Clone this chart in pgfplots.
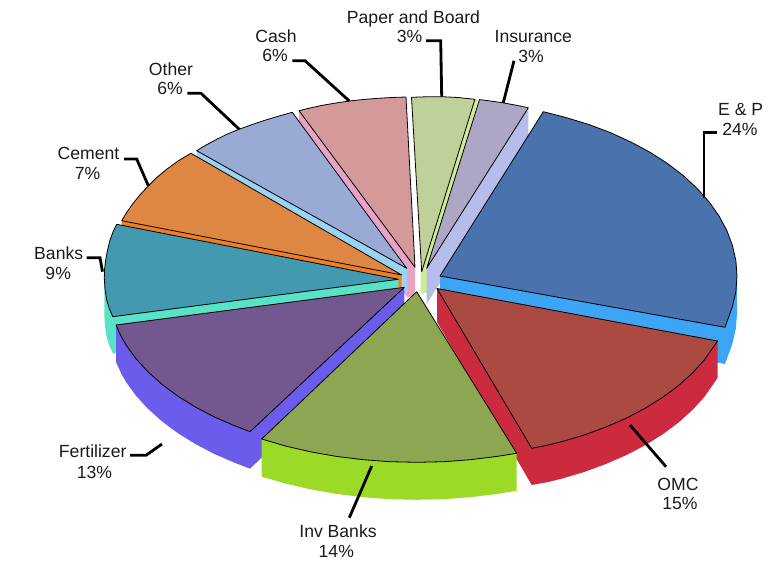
\documentclass[border=0pt]{standalone}
\usepackage{pgfplots}
\pgfplotsset{compat=1.18}
\usepackage{fontspec}
\setmainfont{Liberation Sans}

% top face / side face colours of each sector
\definecolor{epT}{HTML}{4A72AD}\definecolor{epS}{HTML}{3CA5F5}
\definecolor{omT}{HTML}{AB4A42}\definecolor{omS}{HTML}{CC2B3F}
\definecolor{ibT}{HTML}{8CA652}\definecolor{ibS}{HTML}{9BDB27}
\definecolor{feT}{HTML}{72588F}\definecolor{feS}{HTML}{6C5CEB}
\definecolor{baT}{HTML}{4299B0}\definecolor{baS}{HTML}{58E2C6}
\definecolor{ceT}{HTML}{DE8743}\definecolor{ceS}{HTML}{F57C21}
\definecolor{otT}{HTML}{99AAD5}\definecolor{otS}{HTML}{9AD4F3}
\definecolor{caT}{HTML}{D49A9A}\definecolor{caS}{HTML}{E8A2C6}
\definecolor{paT}{HTML}{C0D09A}\definecolor{paS}{HTML}{CDEC94}
\definecolor{inT}{HTML}{AEA6C5}\definecolor{inS}{HTML}{B6BDEB}
\definecolor{labelgrey}{HTML}{1A1A1A}

\pgfplotsset{
  top/.style={fill=#1, draw=black, line width=0.8pt, sharp plot, no markers, line join=round, line cap=round},
  side/.style={fill=#1, draw=none, sharp plot, no markers},
  leader/.style={draw=black, line width=2.8pt, no markers, sharp plot, line join=miter},
}
% one line of a label, placed by its baseline
\newcommand{\lab}[3]{\node[anchor=base, inner sep=0pt, yshift=-0.8pt, text=labelgrey, font=\fontsize{17.6}{20}\selectfont] at (axis cs:#1,#2) {#3};}

\begin{document}
\begin{tikzpicture}
\begin{axis}[
  width=768pt, height=561pt, scale only axis,
  xmin=0, xmax=768, ymin=0, ymax=561, y dir=reverse,
  hide axis, clip=false,
]
\path (axis cs:0,0) rectangle (axis cs:768,561);
% Cash
\addplot[side=caS] coordinates {(415,267.3)(415,297)(407,297)(299,140)(299,110.7)};
\addplot[top=caT] coordinates {(415,267.3)(299,110.7)(311,107.8)(323,105.2)(336,103)(349.3,101)(363.5,99.5)(378,98.3)(392,97.5)(406,97)(415,267.3)};
% Paper and Board
\addplot[side=paS] coordinates {(420.5,270)(420.5,293)(427.5,293)(478,100)(474.7,99.3)};
\addplot[top=paT] coordinates {(421.7,271.7)(411.5,97.3)(426,96.8)(441.7,96.7)(458,97.5)(474.9,99.3)(421.7,271.7)};
% Insurance
\addplot[side=inS] coordinates {(426.7,268.3)(426.7,304)(528.3,144)(528.3,108)};
\addplot[top=inT] coordinates {(426.7,268.3)(479.5,99.6)(492,101.2)(504,103)(516,105.2)(528.3,107.8)(426.7,268.3)};
% Other
\addplot[side=otS] coordinates {(406.7,268.3)(407.7,292)(402,292)(196.7,180)(196.7,150.7)};
\addplot[top=otT] coordinates {(406.7,268.3)(196.7,150.7)(207,144.5)(217.7,138.8)(228,133.8)(239,129.3)(251.5,124.8)(264.2,120.5)(278,116.3)(292.3,112.3)(406.7,268.3)};
% Cement
\addplot[side=ceS] coordinates {(401.7,275)(401.7,287)(398,287)(121.7,250)(121.7,220.7)};
\addplot[top=ceT] coordinates {(401.7,275)(121.7,220.7)(127,212)(133.1,203.4)(140.3,194.5)(148.3,186)(157,177.3)(166.9,169.1)(178,161)(191,153.3)(401.7,275)};
% Banks
\addplot[side=baS] coordinates {(104.3,278)(104.3,315)(105,326)(106.7,337)(109.3,345.5)(113,353.5)(398.3,312)(398.3,279.3)};
\addplot[top=baT] coordinates {(398.3,279.3)(116.7,224.3)(113,232)(110,240)(107.5,250)(105.7,260)(104.6,269)(104.3,278)(105,289)(106.7,300)(109.3,308.5)(112.7,316.7)(398.3,279.3)};
% E & P
\addplot[side=epS] coordinates {(440,276)(440,310)(725,364)(728.2,355.3)(732.5,343.4)(735.9,328.3)(737,313)(737,276)};
\addplot[top=epT] coordinates {(440,276)(543.3,111.7)(565.5,117.4)(588.5,124.4)(610.4,132.6)(630.9,142)(650,152.3)(667.5,163.5)(683.3,175.6)(697.2,188.5)(709.2,202)(719.1,216.1)(726.9,230.7)(732.5,245.6)(735.9,260.7)(737,276)(735.9,291.3)(732.5,306.4)(728.2,318.3)(725,327.3)(440,276)};
% OMC
\addplot[side=omS] coordinates {(437,288.5)(437,322)(531.7,485)(547.5,482.2)(561.7,478.7)(584.5,471.9)(606.2,463.9)(626.6,455)(645.6,445)(663,434.1)(678.7,422.4)(692.5,410)(704.4,396.9)(717.5,378)(717.5,341)};
\addplot[top=omT] coordinates {(437,288.5)(717.5,341)(704.4,359.9)(692.5,373)(678.7,385.4)(663,397.1)(645.6,408)(626.6,418)(606.2,426.9)(584.5,434.9)(561.7,441.7)(547.5,445.2)(531.7,448.3)(437,288.5)};
% Fertilizer
\addplot[side=feS] coordinates {(404.3,287.3)(404.3,322)(250,468.7)(234.5,462.7)(214,453.8)(195,443.8)(177.6,433)(161.8,421.2)(148,408.8)(136,395.7)(126.1,382.1)(121.3,373.7)(116,362)(116,325)};
\addplot[top=feT] coordinates {(404.3,287.3)(116,325)(121.3,336.7)(126.1,345.1)(136,358.7)(148,371.8)(161.8,384.2)(177.6,396)(195,406.8)(214,416.8)(234.5,425.7)(250,431.7)(404.3,287.3)};
% Inv Banks
\addplot[side=ibS] coordinates {(261.7,439)(261.7,476.7)(286.5,483.8)(311.4,489.5)(337,494)(363.2,497.2)(389.8,499.2)(416.7,499.8)(443.6,499.2)(470.2,497.2)(496.4,494)(516.7,490.8)(516.7,453.3)};
\addplot[top=ibT] coordinates {(416.7,291.7)(516.7,453.3)(496.4,456.5)(470.2,459.7)(443.6,461.7)(416.7,462.3)(389.8,461.7)(363.2,459.7)(337,456.5)(311.4,452)(286.5,446.3)(261.7,439)(416.7,291.7)};

% leader lines
\addplot[leader] coordinates {(716.7,132.7)(704,132.7)(704,198)};
\addplot[leader] coordinates {(630,425)(666,466.7)};
\addplot[leader] coordinates {(371.7,466)(349.3,517.7)};
\addplot[leader] coordinates {(130,455.3)(146,455.3)(162,444)};
\addplot[leader] coordinates {(86.7,257.7)(100,257.7)(102.5,271.7)};
\addplot[leader] coordinates {(124,159)(136.7,159)(148.3,185.7)};
\addplot[leader] coordinates {(187.3,93.3)(201,93.3)(239.3,129.3)};
\addplot[leader] coordinates {(292.3,60.7)(305,60.7)(349.3,101)};
\addplot[leader] coordinates {(426,40.7)(440.7,40.7)(441.7,96.7)};
\addplot[leader] coordinates {(514,60.7)(503.3,102.7)};

% sector labels
\lab{413.5}{22.7}{Paper and Board}
\lab{409.5}{41.7}{3\%}
\lab{533.3}{41.7}{Insurance}
\lab{531}{61.7}{3\%}
\lab{740.7}{114.3}{E \& P}
\lab{740}{134.3}{24\%}
\lab{678}{489.3}{OMC}
\lab{680}{509}{15\%}
\lab{338}{536.7}{Inv Banks}
\lab{336.3}{556.7}{14\%}
\lab{92.7}{456.7}{Fertilizer}
\lab{94.5}{477.3}{13\%}
\lab{58.7}{258.3}{Banks}
\lab{58.2}{279}{9\%}
\lab{88.5}{159}{Cement}
\lab{87.5}{179}{7\%}
\lab{171}{75}{Other}
\lab{170}{94}{6\%}
\lab{276}{41.7}{Cash}
\lab{275}{61}{6\%}
\end{axis}
\end{tikzpicture}
\end{document}
